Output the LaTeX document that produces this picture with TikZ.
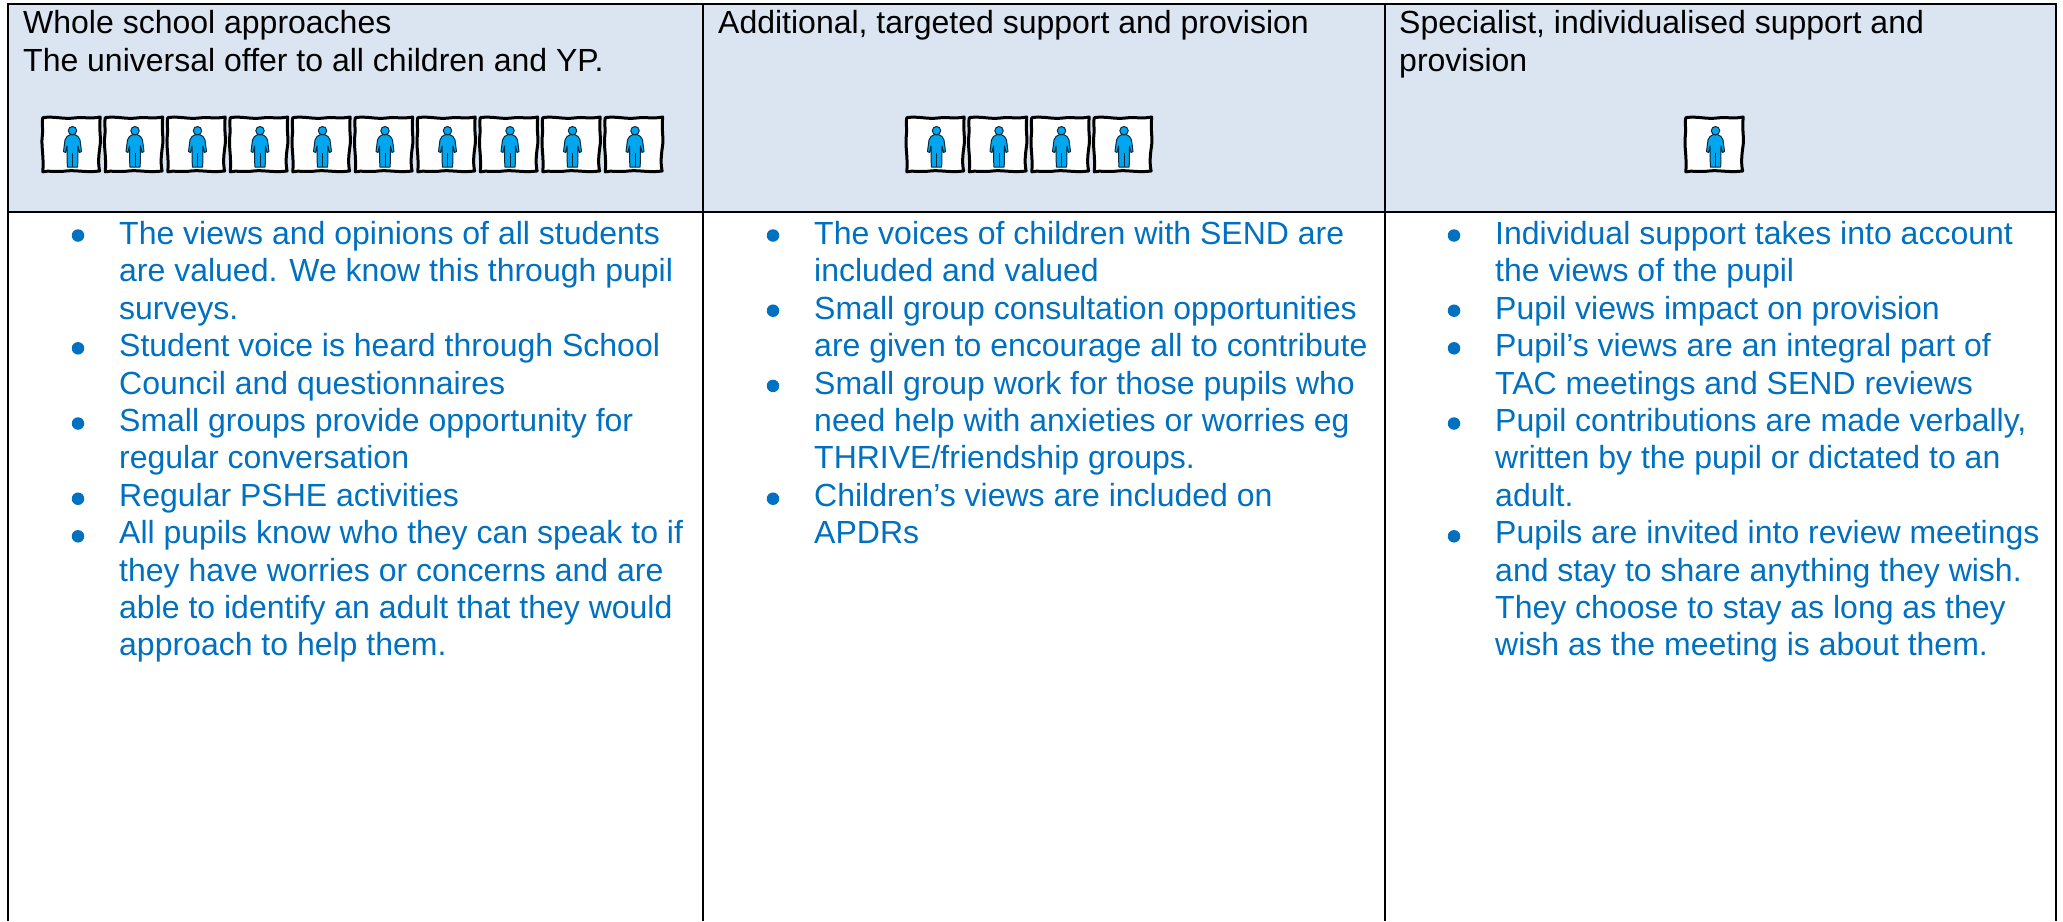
\documentclass[tikz,border=0pt]{standalone}
\usepackage{fontspec}
\setmainfont{Liberation Sans}
\definecolor{headfill}{HTML}{DBE5F1}
\definecolor{bodyblue}{HTML}{0070C0}
\definecolor{manblue}{HTML}{00A6EE}
\definecolor{manline}{HTML}{0B2A3C}
\tikzset{
  x=1pt,y=-1pt,
  rule/.style={draw=black,line width=2pt},
  headtext/.style={inner sep=0pt,anchor=north west,align=left,text=black,font=\fontsize{32}{37.3}\selectfont},
  itemtext/.style={inner sep=0pt,anchor=north west,align=left,text=bodyblue,font=\fontsize{32}{37.4}\selectfont},
  bulletdot/.style={circle,fill=bodyblue,inner sep=0pt,minimum size=12.5pt},
  person/.pic={
    \draw[fill=white,draw=black,line width=3pt,line join=round]
      (1.8,1.6) .. controls (14,0) and (22,3.4) .. (33,2) .. controls (42,0.8) and (50,3) .. (59.2,1)
      .. controls (57.8,14) and (60.4,22) .. (59,30) .. controls (57.6,40) and (57,47) .. (58.6,55)
      .. controls (45,56.8) and (35,53.8) .. (25,55) .. controls (15,56.4) and (8,54.2) .. (1.8,55.8)
      .. controls (3,40) and (0,30) .. (1.3,20) .. controls (2.2,12) and (0.6,6) .. (1.8,1.6) -- cycle;
    \draw[fill=manblue,draw=manline,line width=1pt,line join=round]
      (29.5,18.5) -- (33.5,18.5) -- (37,20.5) -- (39,24) -- (40.5,35.5) -- (38.5,36.5) -- (37,30)
      -- (36.7,51) -- (26.3,51) -- (26,30) -- (24.5,36.5) -- (22.5,35.5) -- (24,24) -- (26,20.5) -- cycle;
    \draw[manline,line width=0.8pt] (31.5,37) -- (31.5,50.5);
    \draw[fill=manblue,draw=manline,line width=1pt] (31.5,14.7) circle[radius=4.2];
  }
}
% name, bullet x, text x, line index, text
\newcommand{\blockitem}[5]{%
  \pgfmathsetmacro{\ytop}{218.2+37.4*#4}%
  \pgfmathsetmacro{\ybul}{235.5+37.6*#4}%
  \node[bulletdot] (#1b) at (#2,\ybul) {};
  \node[itemtext] (#1) at (#3,\ytop) {\strut #5};
}
\begin{document}
\begin{tikzpicture}
\useasboundingbox (0,0) rectangle (2063,921);
\fill[white] (0,0) rectangle (2063,921);
\fill[headfill] (7.5,4) rectangle (2055.5,212);
\draw[rule] (6.5,4) -- (2056.5,4);
\draw[rule] (6.5,212) -- (2056.5,212);
\draw[rule] (7.5,4) -- (7.5,921);
\draw[rule] (703,4) -- (703,921);
\draw[rule] (1384.5,4) -- (1384.5,921);
\draw[rule] (2055.5,4) -- (2055.5,921);

\node[headtext] (h1) at (23,7.4) {\strut Whole school approaches\\The universal offer to all children and YP.};
\node[headtext] (h2) at (718,7.4) {\strut Additional, targeted support and provision};
\node[headtext] (h3) at (1399,7.4) {\strut Specialist, individualised support and\\provision};

\foreach \i in {0,...,9} \pic at ({41+62.5*\i},116) {person};
\foreach \i in {0,...,3} \pic at ({905+62.5*\i},116) {person};
\pic at (1684,116) {person};

\blockitem{a1}{78}{119}{0}{The views and opinions of all students\\are valued. We know this through pupil\\surveys.}
\blockitem{a2}{78}{119}{3}{Student voice is heard through School\\Council and questionnaires}
\blockitem{a3}{78}{119}{5}{Small groups provide opportunity for\\regular conversation}
\blockitem{a4}{78}{119}{7}{Regular PSHE activities}
\blockitem{a5}{78}{119}{8}{All pupils know who they can speak to if\\they have worries or concerns and are\\able to identify an adult that they would\\approach to help them.}

\blockitem{b1}{773}{814}{0}{The voices of children with SEND are\\included and valued}
\blockitem{b2}{773}{814}{2}{Small group consultation opportunities\\are given to encourage all to contribute}
\blockitem{b3}{773}{814}{4}{Small group work for those pupils who\\need help with anxieties or worries eg\\THRIVE/friendship groups.}
\blockitem{b4}{773}{814}{7}{Children’s views are included on\\APDRs}

\blockitem{c1}{1454}{1495}{0}{Individual support takes into account\\the views of the pupil}
\blockitem{c2}{1454}{1495}{2}{Pupil views impact on provision}
\blockitem{c3}{1454}{1495}{3}{Pupil’s views are an integral part of\\TAC meetings and SEND reviews}
\blockitem{c4}{1454}{1495}{5}{Pupil contributions are made verbally,\\written by the pupil or dictated to an\\adult.}
\blockitem{c5}{1454}{1495}{8}{Pupils are invited into review meetings\\and stay to share anything they wish.\\They choose to stay as long as they\\wish as the meeting is about them.}
\end{tikzpicture}
\end{document}
